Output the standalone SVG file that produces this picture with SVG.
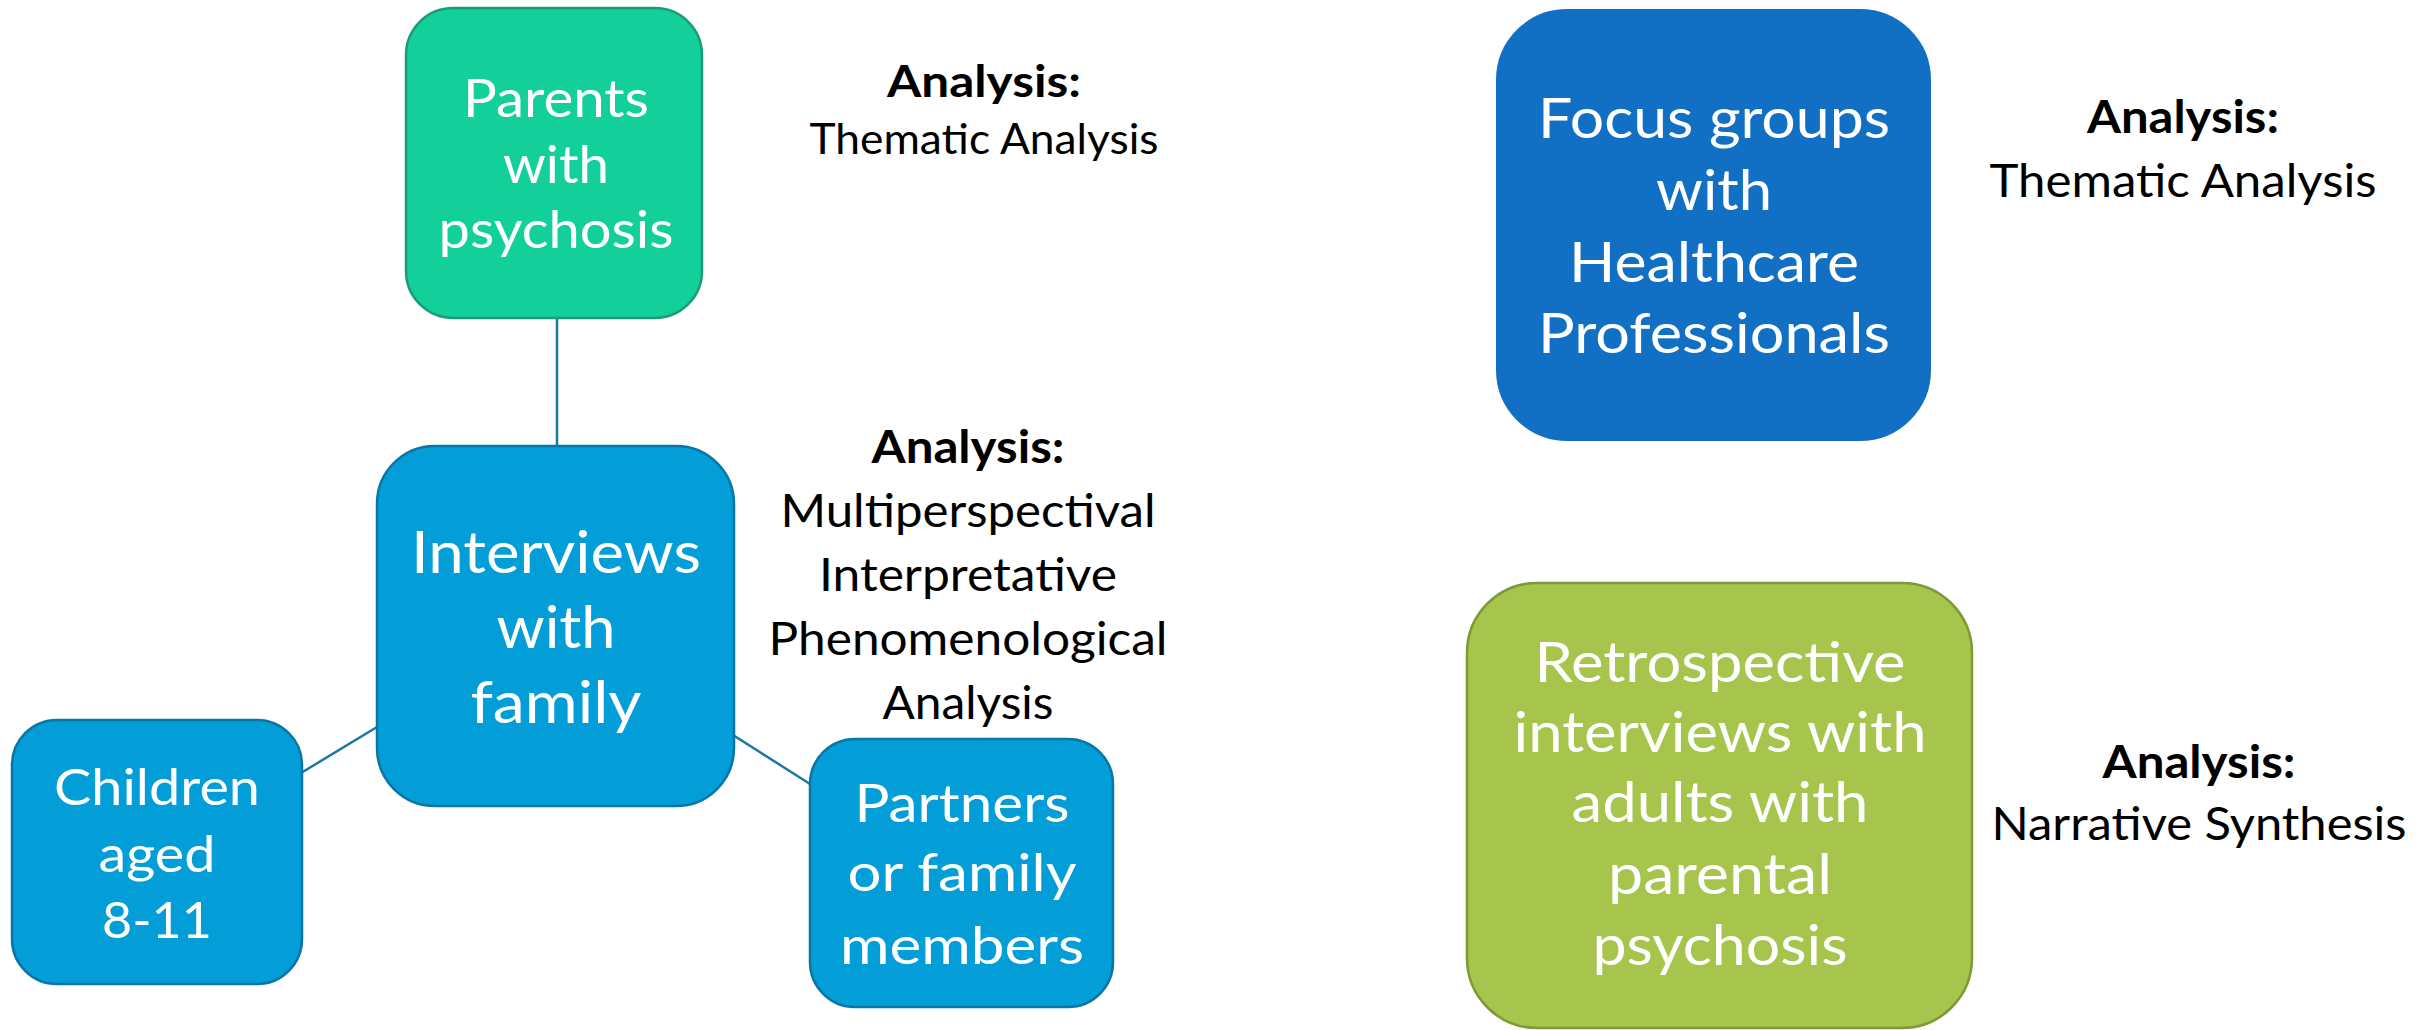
<svg xmlns="http://www.w3.org/2000/svg" width="2423" height="1030" viewBox="0 0 2423 1030">
<style>
.node text{font-family:Lato,"Open Sans","Liberation Sans",sans-serif;fill:#ffffff;text-anchor:middle}
.ana text{font-family:Lato,"Open Sans","Liberation Sans",sans-serif;fill:#000000;text-anchor:middle}
.b{font-weight:bold}
.green{fill:#13CF9A;stroke:#199C7A;stroke-width:2.5}
.blue{fill:#039ED8;stroke:#0A76A6;stroke-width:2.5}
.dblue{fill:#1170C4;stroke:#1170C4;stroke-width:2}
.olive{fill:#A7C44C;stroke:#7C9A36;stroke-width:2.5}
.conn line{stroke:#1B78A6;stroke-width:2.5}
</style>
<rect width="2423" height="1030" fill="#ffffff"/>
<g id="connectors" class="conn">
<line x1="557" y1="318" x2="557" y2="446"/>
<line x1="301" y1="773" x2="377" y2="727"/>
<line x1="733" y1="735" x2="810" y2="784"/>
</g>
<g id="parents" class="node">
<rect class="green" x="406" y="8" width="296" height="310" rx="47" ry="47"/>
<text x="556" y="117" font-size="52" textLength="186" lengthAdjust="spacingAndGlyphs">Parents</text>
<text x="556" y="183" font-size="52" textLength="106" lengthAdjust="spacingAndGlyphs">with</text>
<text x="556" y="248" font-size="52" textLength="235" lengthAdjust="spacingAndGlyphs">psychosis</text>
</g>
<g id="interviews" class="node">
<rect class="blue" x="377" y="446" width="357" height="360" rx="58" ry="58"/>
<text x="556" y="573" font-size="59" textLength="290" lengthAdjust="spacingAndGlyphs">Interviews</text>
<text x="556" y="648" font-size="59" textLength="119" lengthAdjust="spacingAndGlyphs">with</text>
<text x="556" y="723" font-size="59" textLength="171" lengthAdjust="spacingAndGlyphs">family</text>
</g>
<g id="children" class="node">
<rect class="blue" x="12" y="720" width="290" height="264" rx="45" ry="45"/>
<text x="157" y="805" font-size="51" textLength="206" lengthAdjust="spacingAndGlyphs">Children</text>
<text x="157" y="872" font-size="51" textLength="117" lengthAdjust="spacingAndGlyphs">aged</text>
<text x="157" y="938" font-size="51" textLength="110" lengthAdjust="spacingAndGlyphs">8-11</text>
</g>
<g id="partners" class="node">
<rect class="blue" x="810" y="739" width="303" height="268" rx="45" ry="45"/>
<text x="962" y="822" font-size="53" textLength="215" lengthAdjust="spacingAndGlyphs">Partners</text>
<text x="962" y="891" font-size="53" textLength="229" lengthAdjust="spacingAndGlyphs">or family</text>
<text x="962" y="964" font-size="53" textLength="244" lengthAdjust="spacingAndGlyphs">members</text>
</g>
<g id="focus" class="node">
<rect class="dblue" x="1497" y="10" width="433" height="430" rx="70" ry="70"/>
<text x="1714" y="138" font-size="57" textLength="352" lengthAdjust="spacingAndGlyphs">Focus groups</text>
<text x="1714" y="210" font-size="57" textLength="116" lengthAdjust="spacingAndGlyphs">with</text>
<text x="1714" y="282" font-size="57" textLength="290" lengthAdjust="spacingAndGlyphs">Healthcare</text>
<text x="1714" y="353" font-size="57" textLength="352" lengthAdjust="spacingAndGlyphs">Professionals</text>
</g>
<g id="retrospective" class="node">
<rect class="olive" x="1467" y="583" width="505" height="445" rx="70" ry="70"/>
<text x="1720" y="682" font-size="56" textLength="371" lengthAdjust="spacingAndGlyphs">Retrospective</text>
<text x="1720" y="752" font-size="56" textLength="413" lengthAdjust="spacingAndGlyphs">interviews with</text>
<text x="1720" y="822" font-size="56" textLength="297" lengthAdjust="spacingAndGlyphs">adults with</text>
<text x="1720" y="894" font-size="56" textLength="224" lengthAdjust="spacingAndGlyphs">parental</text>
<text x="1720" y="965" font-size="56" textLength="255" lengthAdjust="spacingAndGlyphs">psychosis</text>
</g>
<g id="analysis-parents" class="ana">
<text class="b" x="984" y="97" font-size="43" textLength="194" lengthAdjust="spacingAndGlyphs">Analysis:</text>
<text x="984" y="154" font-size="42" textLength="349" lengthAdjust="spacingAndGlyphs">Thematic Analysis</text>
</g>
<g id="analysis-family" class="ana">
<text class="b" x="968" y="463" font-size="46" textLength="193" lengthAdjust="spacingAndGlyphs">Analysis:</text>
<text x="968" y="527" font-size="46" textLength="375" lengthAdjust="spacingAndGlyphs">Multiperspectival</text>
<text x="968" y="591" font-size="46" textLength="298" lengthAdjust="spacingAndGlyphs">Interpretative</text>
<text x="968" y="655" font-size="46" textLength="399" lengthAdjust="spacingAndGlyphs">Phenomenological</text>
<text x="968" y="719" font-size="46" textLength="171" lengthAdjust="spacingAndGlyphs">Analysis</text>
</g>
<g id="analysis-focus" class="ana">
<text class="b" x="2183" y="133" font-size="46" textLength="192" lengthAdjust="spacingAndGlyphs">Analysis:</text>
<text x="2183" y="197" font-size="46" textLength="387" lengthAdjust="spacingAndGlyphs">Thematic Analysis</text>
</g>
<g id="analysis-retro" class="ana">
<text class="b" x="2199" y="778" font-size="46" textLength="193" lengthAdjust="spacingAndGlyphs">Analysis:</text>
<text x="2199" y="840" font-size="46" textLength="415" lengthAdjust="spacingAndGlyphs">Narrative Synthesis</text>
</g>
</svg>
